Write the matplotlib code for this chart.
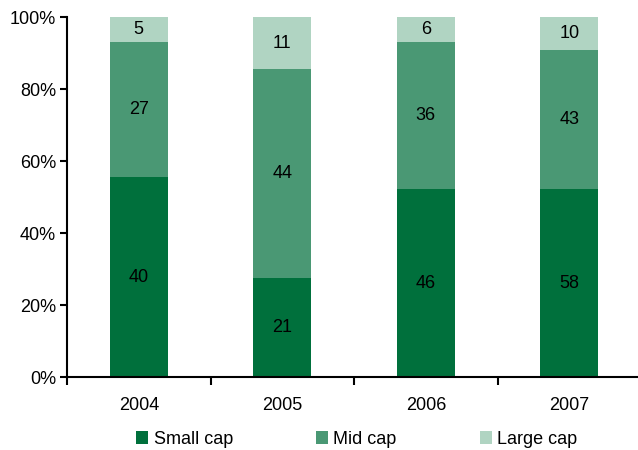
import numpy as np
import matplotlib
matplotlib.use('Agg')
import matplotlib.pyplot as plt
from matplotlib.ticker import FuncFormatter, FixedLocator

plt.rcParams['font.family'] = ['Liberation Sans', 'DejaVu Sans']

years = ['2004', '2005', '2006', '2007']
small_cap = [40, 21, 46, 58]
mid_cap = [27, 44, 36, 43]
large_cap = [5, 11, 6, 10]

series = [('Small cap', small_cap, '#00703C'),
          ('Mid cap', mid_cap, '#4A9874'),
          ('Large cap', large_cap, '#B0D4C2')]

totals = np.array(small_cap) + np.array(mid_cap) + np.array(large_cap)
x = np.arange(len(years))

fig = plt.figure(figsize=(6.38, 4.5), dpi=100)
ax = fig.add_axes([0.105, 0.162, 0.9, 0.8])

bottom = np.zeros(len(years))
handles = []
for name, vals, col in series:
    share = np.array(vals) / totals * 100
    b = ax.bar(x, share, 0.405, bottom=bottom, color=col, label=name)
    handles.append(b)
    for xi, bo, sh, v in zip(x, bottom, share, vals):
        ax.text(xi, bo + sh / 2, str(v), ha='center', va='center', fontsize=13)
    bottom += share

ax.set_xlim(-0.5, len(years) - 0.5)
ax.set_ylim(0, 100)
ax.set_yticks(np.arange(0, 101, 20))
ax.yaxis.set_major_formatter(FuncFormatter(lambda v, p: '%d%%' % v))
ax.set_xticks(x)
ax.set_xticklabels(years)
ax.xaxis.set_minor_locator(FixedLocator(np.arange(-0.5, len(years) - 1, 1.0)))
ax.tick_params(axis='x', which='major', length=0, pad=14, labelsize=13)
ax.tick_params(axis='x', which='minor', length=6, width=1.5, direction='out')
ax.tick_params(axis='y', length=5, width=1.5, direction='out', labelsize=13, pad=3)
ax.spines['top'].set_visible(False)
ax.spines['right'].set_visible(False)
ax.spines['left'].set_linewidth(1.5)
ax.spines['bottom'].set_linewidth(1.5)

fig.legend(handles=handles, loc='center', bbox_to_anchor=(0.559, 0.024), ncol=3,
           frameon=False, fontsize=13, handlelength=0.67, handleheight=0.67,
           handletextpad=0.3, columnspacing=4.6)

fig.savefig('out.png', dpi=100)
